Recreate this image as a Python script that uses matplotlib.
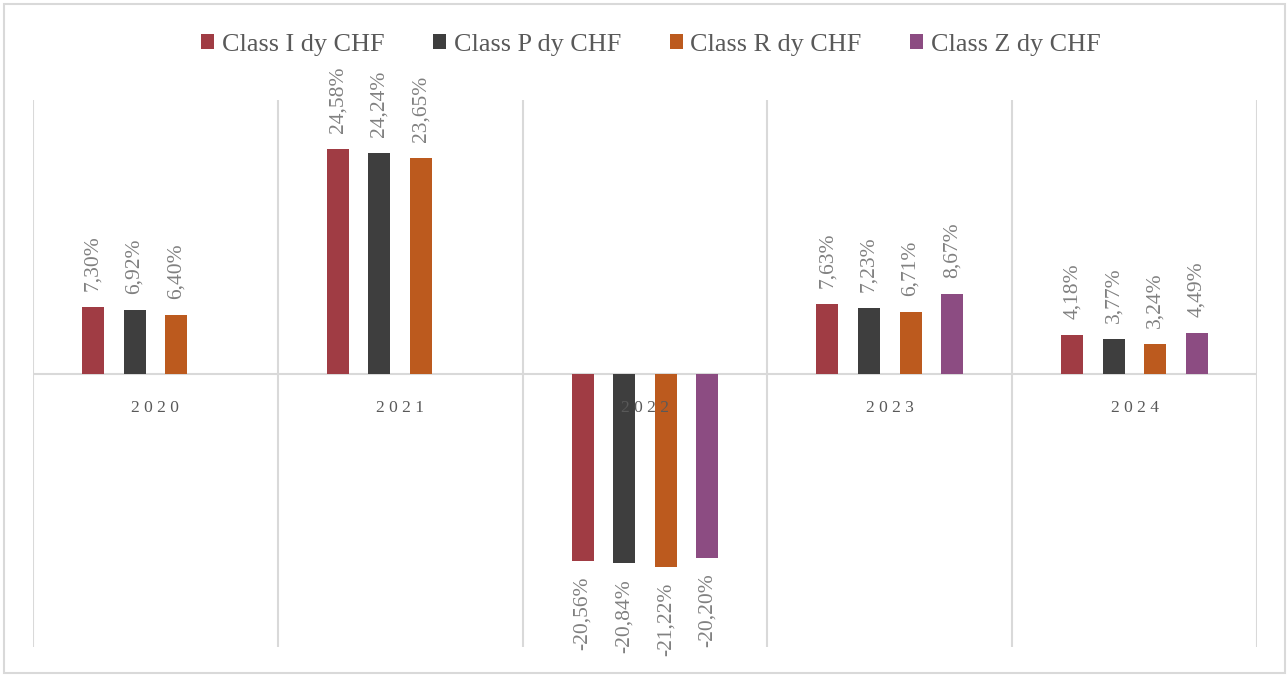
import matplotlib
matplotlib.use("Agg")
import matplotlib.pyplot as plt
from matplotlib.patches import Patch, Rectangle
import numpy as np

plt.rcParams['font.family'] = ['Liberation Serif', 'DejaVu Serif']

years = ["2020", "2021", "2022", "2023", "2024"]
series_names = ["Class I dy CHF", "Class P dy CHF", "Class R dy CHF", "Class Z dy CHF"]
class_i = [7.30, 24.58, -20.56, 7.63, 4.18]
class_p = [6.92, 24.24, -20.84, 7.23, 3.77]
class_r = [6.40, 23.65, -21.22, 6.71, 3.24]
class_z = [None, None, -20.20, 8.67, 4.49]
colors = ["#A03C44", "#3E3E3E", "#BC5A1E", "#8C4C82"]

series = [class_i, class_p, class_r, class_z]

fig = plt.figure(figsize=(12.87, 6.75), dpi=100)
ax = fig.add_axes([33/1287, 1-647/675, (1257-33)/1287, (647-100)/675])

n = len(years)
x = np.arange(n)
offsets = [-0.255, -0.085, 0.085, 0.255]
width = 0.09

for vals, off, col in zip(series, offsets, colors):
    for xi, v in zip(x, vals):
        if v is None:
            continue
        ax.bar(xi + off, v, width=width, color=col, zorder=3)
        lbl = f"{v:.2f}".replace(".", ",") + "%"
        if v >= 0:
            ax.annotate(lbl, (xi + off, v), xytext=(0, 16), textcoords='offset pixels',
                        rotation=90, ha='center', va='bottom', fontsize=15.5, color='#808080')
        else:
            ax.annotate(lbl, (xi + off, v), xytext=(0, -16), textcoords='offset pixels',
                        rotation=90, ha='center', va='top', fontsize=15.5, color='#808080')

ax.set_xlim(-0.5, n - 0.5)
ax.set_ylim(-30, 30)
ax.axhline(0, color='#D9D9D9', lw=1.5, zorder=2)
for b in np.arange(-0.5, n, 1.0):
    ax.axvline(b, color='#D9D9D9', lw=1.5, zorder=1)

for xi, yr in zip(x, years):
    ax.annotate(" ".join(yr), (xi, 0), xytext=(0, -34), textcoords='offset pixels',
                ha='center', va='center', fontsize=12.5, color='#595959', zorder=4)

ax.set_xticks([])
ax.set_yticks([])
for s in ax.spines.values():
    s.set_visible(False)
ax.patch.set_alpha(0)

handles = [Patch(facecolor=c, edgecolor='none') for c in colors]
fig.legend(handles, series_names, loc='center', bbox_to_anchor=(651/1287, 1-45/675),
           ncol=4, frameon=False, fontsize=18.8, handlelength=0.5, handleheight=0.5,
           handletextpad=0.3, columnspacing=1.85, labelcolor='#595959')

fig.patches.append(Rectangle((4/1287, 2/675), 1281/1287, 669/675, transform=fig.transFigure,
                             fill=False, edgecolor='#D9D9D9', lw=1.5))

fig.savefig("out.png", dpi=100)
